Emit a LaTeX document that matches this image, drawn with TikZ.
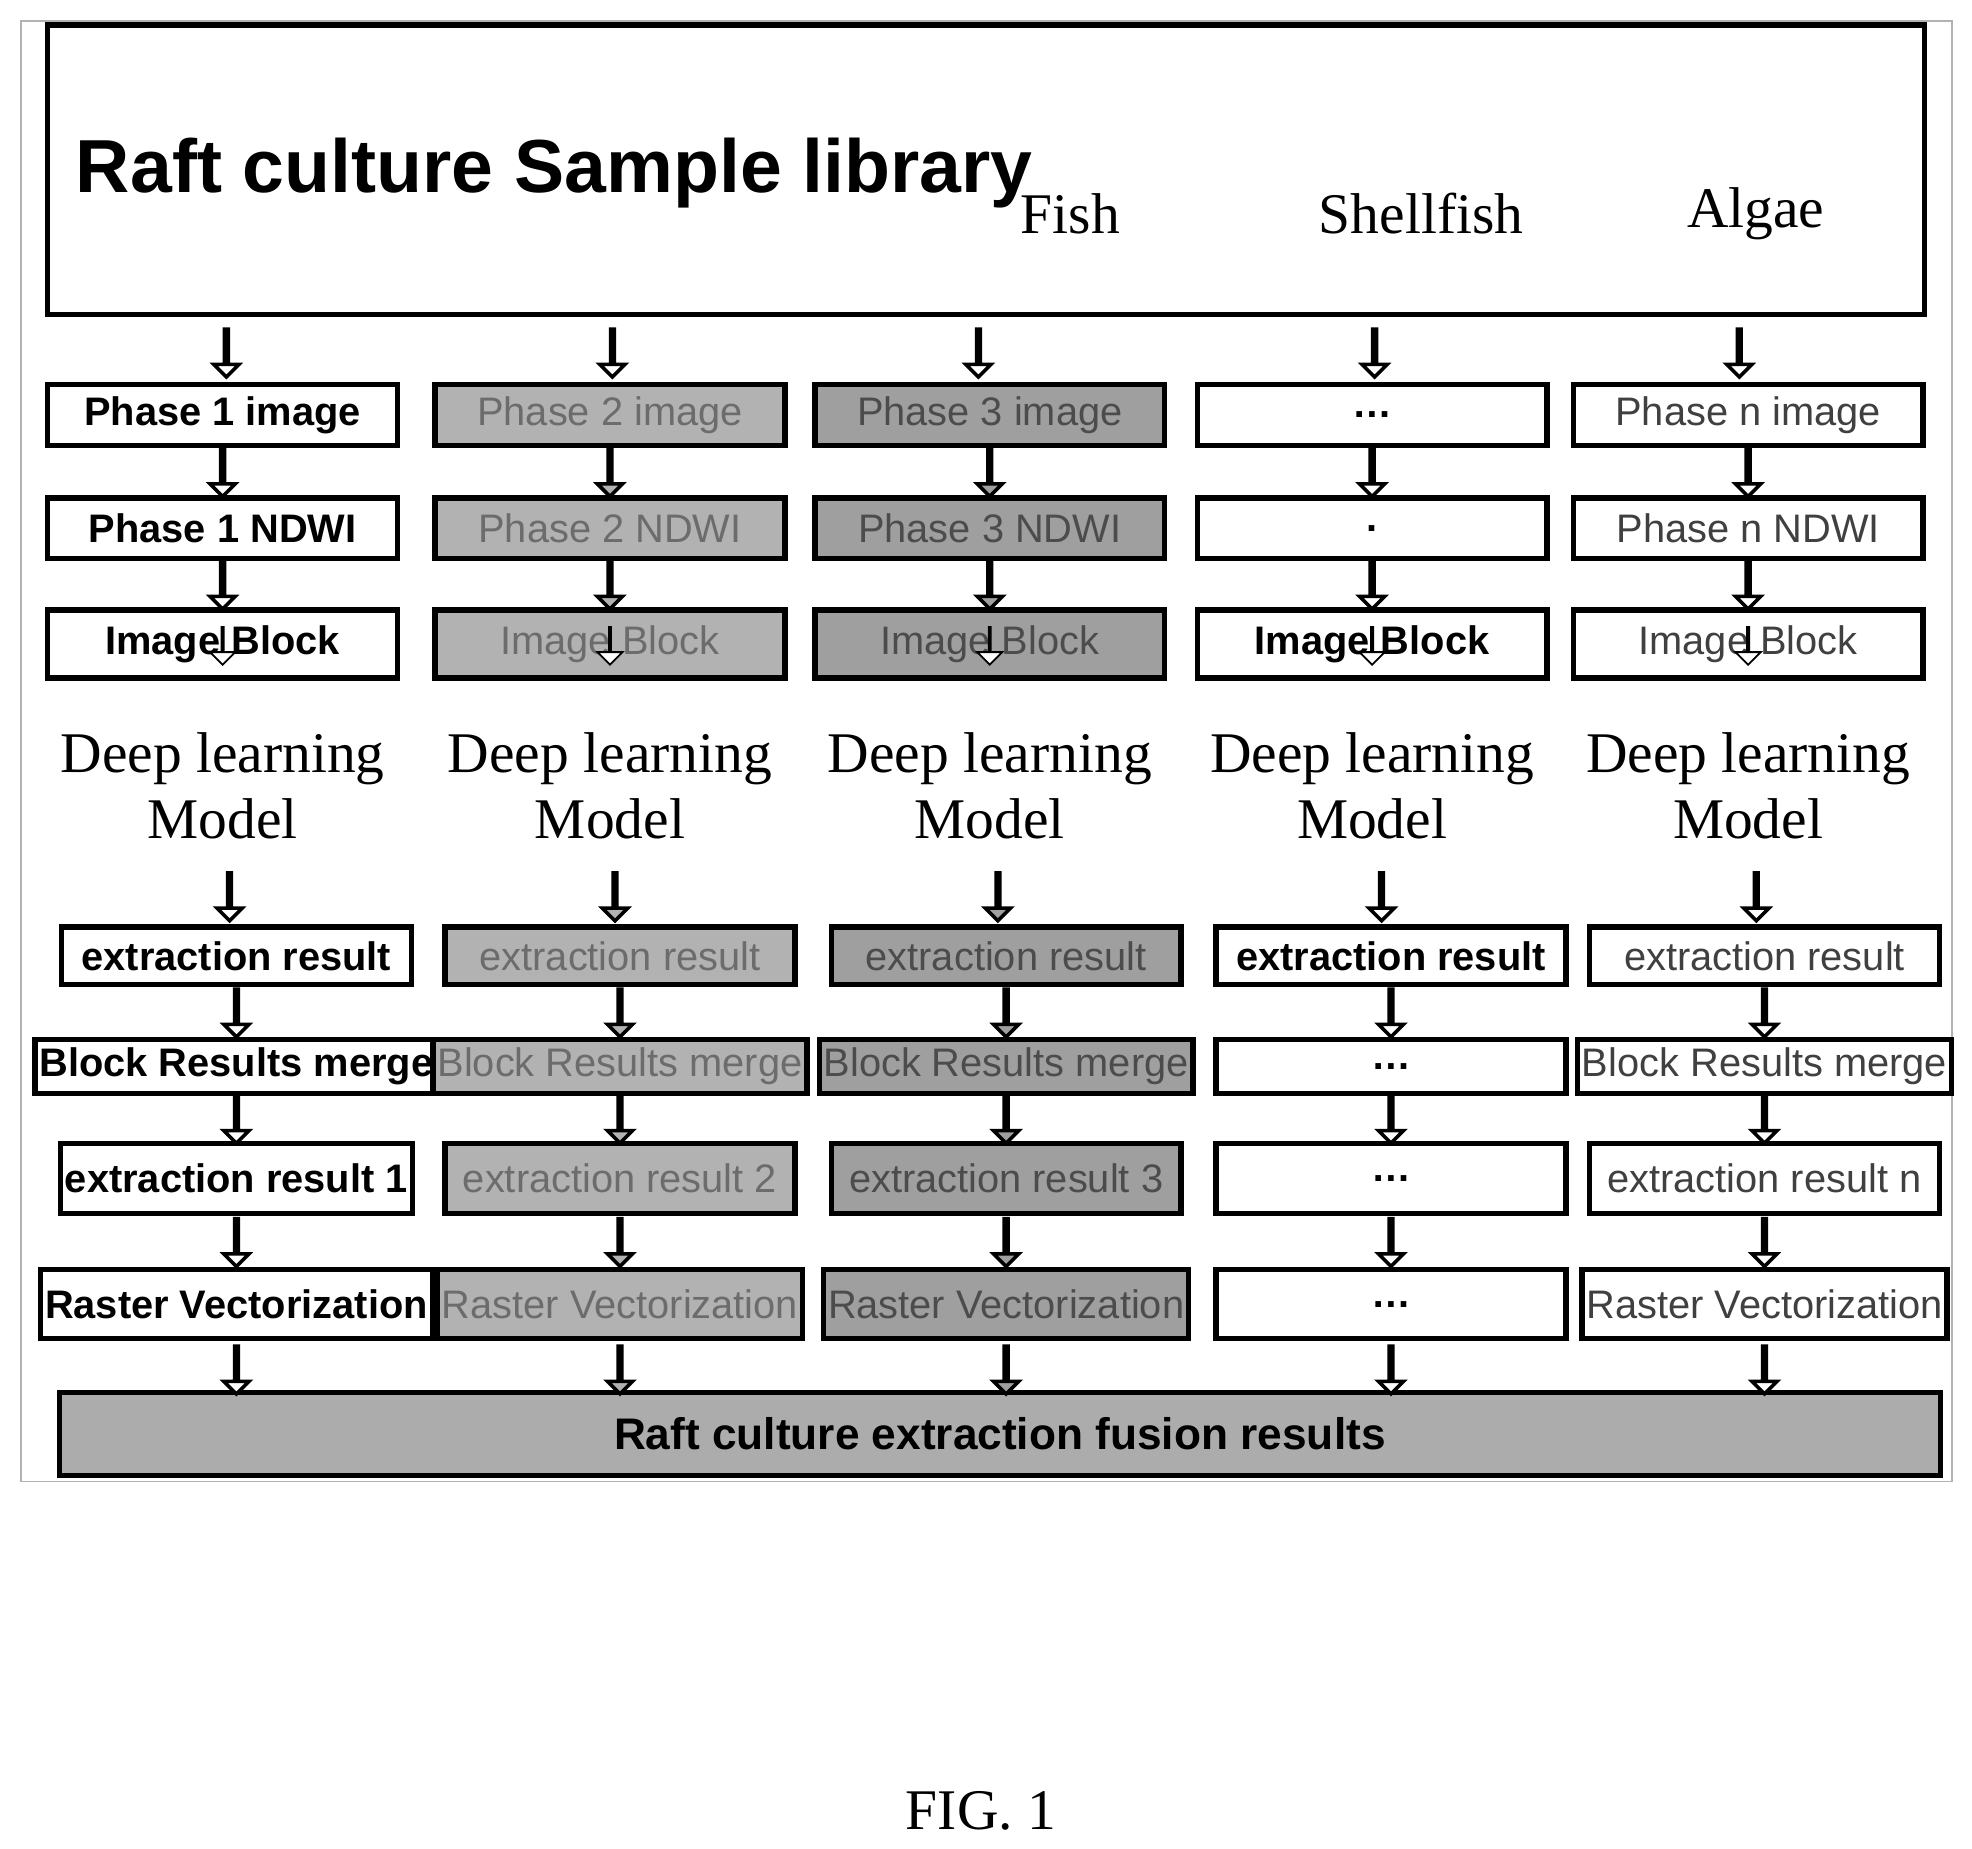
\documentclass[tikz,border=0pt]{standalone}
\usepackage{fontspec}
\setmainfont{Liberation Serif}
\setsansfont{Liberation Sans}
\usetikzlibrary{shapes.arrows,calc}
\begin{document}
\begin{tikzpicture}[
       x=0.01cm, y=-0.01cm,
       box/.style={rectangle, draw=black, very thick, minimum width=2.78cm, minimum height=0.48cm, align=center, font=\sffamily\fontsize{9}{10}\selectfont, inner sep=1pt},
       colA/.style={fill=white, font=\sffamily\bfseries\fontsize{9}{10}\selectfont},
       colB/.style={fill=gray!60, text=gray!85!black},
       colC/.style={fill=gray!75, text=gray!60!black},
       colD/.style={fill=white, font=\sffamily\bfseries\fontsize{9}{10}\selectfont},
       colE/.style={fill=white, text=black!75},
       arr/.style={single arrow, draw=black, thick, shape border rotate=270, minimum height=0.38cm, minimum width=0.2cm, single arrow head extend=0.08cm, inner sep=0pt},
       thinarr/.style={arr, thin, fill=white, minimum height=0.3cm},
       dltext/.style={font=\fontsize{13}{15}\selectfont, align=center}
   ]
   \useasboundingbox (0,0) rectangle (1568,1470);
   \draw[gray!60] (17,17) rectangle (1552,1178);
   \node[draw, very thick, minimum width=14.92cm, minimum height=2.3cm, inner sep=0pt] (lib) at (784,135) {};
   \node[font=\sffamily\bfseries\fontsize{17}{20}\selectfont, anchor=west] (title) at (48,138) {Raft culture Sample library};
   \node[dltext] (fish) at (851,170) {Fish};
   \node[dltext] (shell) at (1130,170) {Shellfish};
   \node[dltext] (algae) at (1396,170) {Algae};
   \node[box, fill=gray!65, minimum width=14.95cm, minimum height=0.66cm, font=\sffamily\bfseries\fontsize{10}{12}\selectfont] (fuse) at (795,1140) {Raft culture extraction fusion results};

   % one column per phase
   \foreach \i/\xa/\xb/\st/\ta/\tb/\tc/\td/\te/\tf/\tg in {
       1/177/188/colA/Phase 1 image/Phase 1 NDWI/Image Block/extraction result/Block Results merge/extraction result 1/Raster Vectorization,
       2/485/493/colB/Phase 2 image/Phase 2 NDWI/Image Block/extraction result/Block Results merge/extraction result 2/Raster Vectorization,
       3/787/800/colC/Phase 3 image/Phase 3 NDWI/Image Block/extraction result/Block Results merge/extraction result 3/Raster Vectorization,
       4/1091/1106/colD/{\ldots}/{.}/Image Block/extraction result/{\ldots}/{\ldots}/{\ldots},
       5/1390/1403/colE/Phase n image/Phase n NDWI/Image Block/extraction result/Block Results merge/extraction result n/Raster Vectorization}{
     \node[box, \st] (a\i) at (\xa,330) {\ta};
     \node[box, \st] (b\i) at (\xa,420) {\tb};
     \node[box, \st, minimum height=0.54cm] (c\i) at (\xa,512) {\tc};
     \node[dltext] (dl\i) at (\xa,625) {Deep learning\\Model};
     \node[box, \st, minimum height=0.46cm] (d\i) at (\xb,760) {\td};
     \node[box, \st, minimum height=0.43cm] (e\i) at (\xb,848) {\te};
     \node[box, \st, minimum height=0.56cm] (f\i) at (\xb,937) {\tf};
     \node[box, \st, minimum height=0.55cm] (g\i) at (\xb,1037) {\tg};
   }
   \foreach \i/\x/\fc in {1/180/white, 2/487/gray!60, 3/778/gray!75, 4/1093/white, 5/1383/white}{
     \node[arr, fill=white] at (\x,280) {};
     \node[arr, fill=\fc] at ($(a\i.south)!0.5!(b\i.north)$) {};
     \node[arr, fill=\fc] at ($(b\i.south)!0.5!(c\i.north)$) {};
     \node[thinarr] at ($(c\i.south)+(0,-28)$) {};
     \node[arr, fill=\fc] at ($(dl\i.south)!0.5!(d\i.north)+(0,5)$) {};
     \node[arr, fill=\fc] at ($(d\i.south)!0.5!(e\i.north)$) {};
     \node[arr, fill=\fc] at ($(e\i.south)!0.5!(f\i.north)$) {};
     \node[arr, fill=\fc] at ($(f\i.south)!0.5!(g\i.north)$) {};
     \node[arr, fill=\fc] at ($(g\i.south)+(0,22)$) {};
   }
   \node[font=\fontsize{13}{15}\selectfont] (fig) at (780,1440) {FIG. 1};
\end{tikzpicture}
\end{document}
